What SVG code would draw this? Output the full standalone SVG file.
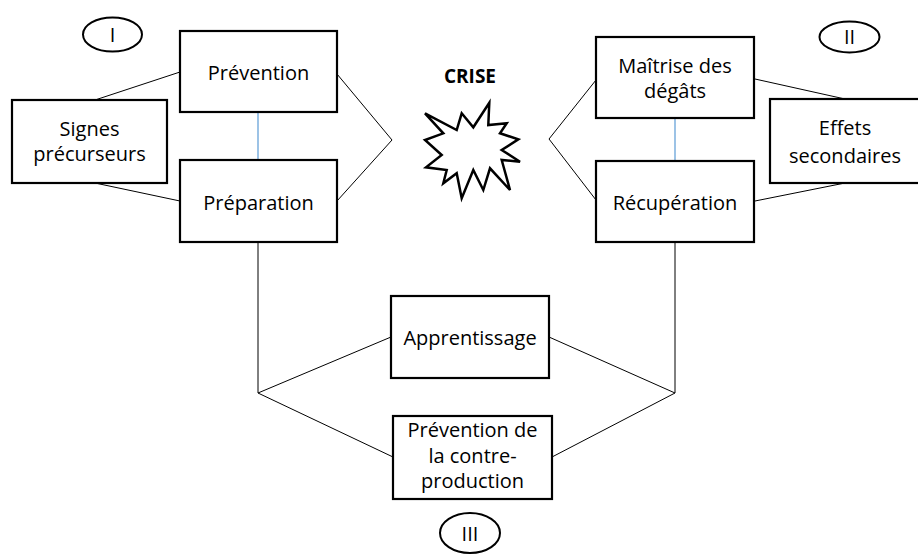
<svg xmlns="http://www.w3.org/2000/svg" width="918" height="554" viewBox="0 0 918 554">
  <style>
    .box { fill: #ffffff; stroke: #000000; stroke-width: 2.2; }
    .oval { fill: #ffffff; stroke: #000000; stroke-width: 2; }
    .lbl { font-family: "Open Sans", "Liberation Sans", sans-serif; font-size: 20px; fill: #000000; text-anchor: middle; }
    .title { font-family: "Open Sans", "Liberation Sans", sans-serif; font-size: 19px; font-weight: bold; fill: #000000; text-anchor: middle; }
    .link { fill: none; stroke: #000000; stroke-width: 1; }
    .tie { fill: none; stroke: #5b9bd5; stroke-width: 1.2; }
  </style>

  <rect width="918" height="554" fill="#ffffff"/>

  <!-- connectors -->
  <g id="connectors">
    <!-- phase I -->
    <line class="link" x1="180" y1="72" x2="95" y2="100"/>
    <line class="link" x1="95" y1="183" x2="180" y2="201"/>
    <polyline class="link" points="337,74 392,140 337,201"/>
    <line class="tie" x1="258" y1="113" x2="258" y2="160"/>
    <!-- phase II -->
    <polyline class="link" points="596,80 549,139 596,200"/>
    <line class="link" x1="755" y1="79" x2="845" y2="99"/>
    <line class="link" x1="845" y1="183" x2="755" y2="201"/>
    <line class="tie" x1="675" y1="119" x2="675" y2="161"/>
    <!-- phase III -->
    <polyline class="link" points="258,242 258,393 391,337"/>
    <line class="link" x1="258" y1="393" x2="393" y2="457"/>
    <polyline class="link" points="675,242 675,393 549,337"/>
    <line class="link" x1="675" y1="393" x2="552" y2="457"/>
  </g>

  <!-- phase markers -->
  <g id="marker-I">
    <ellipse class="oval" cx="112.5" cy="34.5" rx="29.5" ry="17"/>
    <text class="lbl" x="112.5" y="42">I</text>
  </g>
  <g id="marker-II">
    <ellipse class="oval" cx="849.5" cy="37" rx="30" ry="15.5"/>
    <text class="lbl" x="849.5" y="44">II</text>
  </g>
  <g id="marker-III">
    <ellipse class="oval" cx="470" cy="533" rx="30" ry="20"/>
    <text class="lbl" x="470" y="541">III</text>
  </g>

  <!-- crisis -->
  <g id="crise">
    <text class="title" x="470" y="83">CRISE</text>
    <polygon fill="#ffffff" stroke="#000000" stroke-width="2.5" stroke-linejoin="miter"
      points="425,113.3 456.7,130 461.7,113.3 473.3,127.3 489.3,102.7 488.3,125 506.7,123.3 500,133.3 518.3,139.3 501.7,150 520,161.7 501.7,160 510,190 490,168.3 483.3,190 473.3,170 461.7,198.3 456.7,173.3 443.3,183.3 446.7,170 426,167.3 441.7,155 425,140 443.3,133.3"/>
  </g>

  <!-- phase I nodes -->
  <g id="prevention">
    <rect class="box" x="180" y="31" width="157" height="81"/>
    <text class="lbl" x="258.5" y="80">Prévention</text>
  </g>
  <g id="preparation">
    <rect class="box" x="180" y="160" width="157" height="82"/>
    <text class="lbl" x="258.5" y="210">Préparation</text>
  </g>
  <g id="signes">
    <rect class="box" x="12" y="100" width="155" height="83"/>
    <text class="lbl" x="89.5" y="136">Signes</text>
    <text class="lbl" x="89.5" y="160.5">précurseurs</text>
  </g>

  <!-- phase II nodes -->
  <g id="maitrise">
    <rect class="box" x="596" y="37" width="158" height="81"/>
    <text class="lbl" x="675" y="73">Maîtrise des</text>
    <text class="lbl" x="675" y="98">dégâts</text>
  </g>
  <g id="recuperation">
    <rect class="box" x="596" y="161" width="158" height="81"/>
    <text class="lbl" x="675" y="210">Récupération</text>
  </g>
  <g id="effets">
    <rect class="box" x="770" y="99" width="156" height="84"/>
    <text class="lbl" x="845" y="135">Effets</text>
    <text class="lbl" x="845" y="163">secondaires</text>
  </g>

  <!-- phase III nodes -->
  <g id="apprentissage">
    <rect class="box" x="391" y="296" width="158" height="82"/>
    <text class="lbl" x="470" y="345">Apprentissage</text>
  </g>
  <g id="contre-production">
    <rect class="box" x="393" y="416" width="159" height="83"/>
    <text class="lbl" x="472.5" y="437">Prévention de</text>
    <text class="lbl" x="472.5" y="463">la contre-</text>
    <text class="lbl" x="472.5" y="488">production</text>
  </g>
</svg>
